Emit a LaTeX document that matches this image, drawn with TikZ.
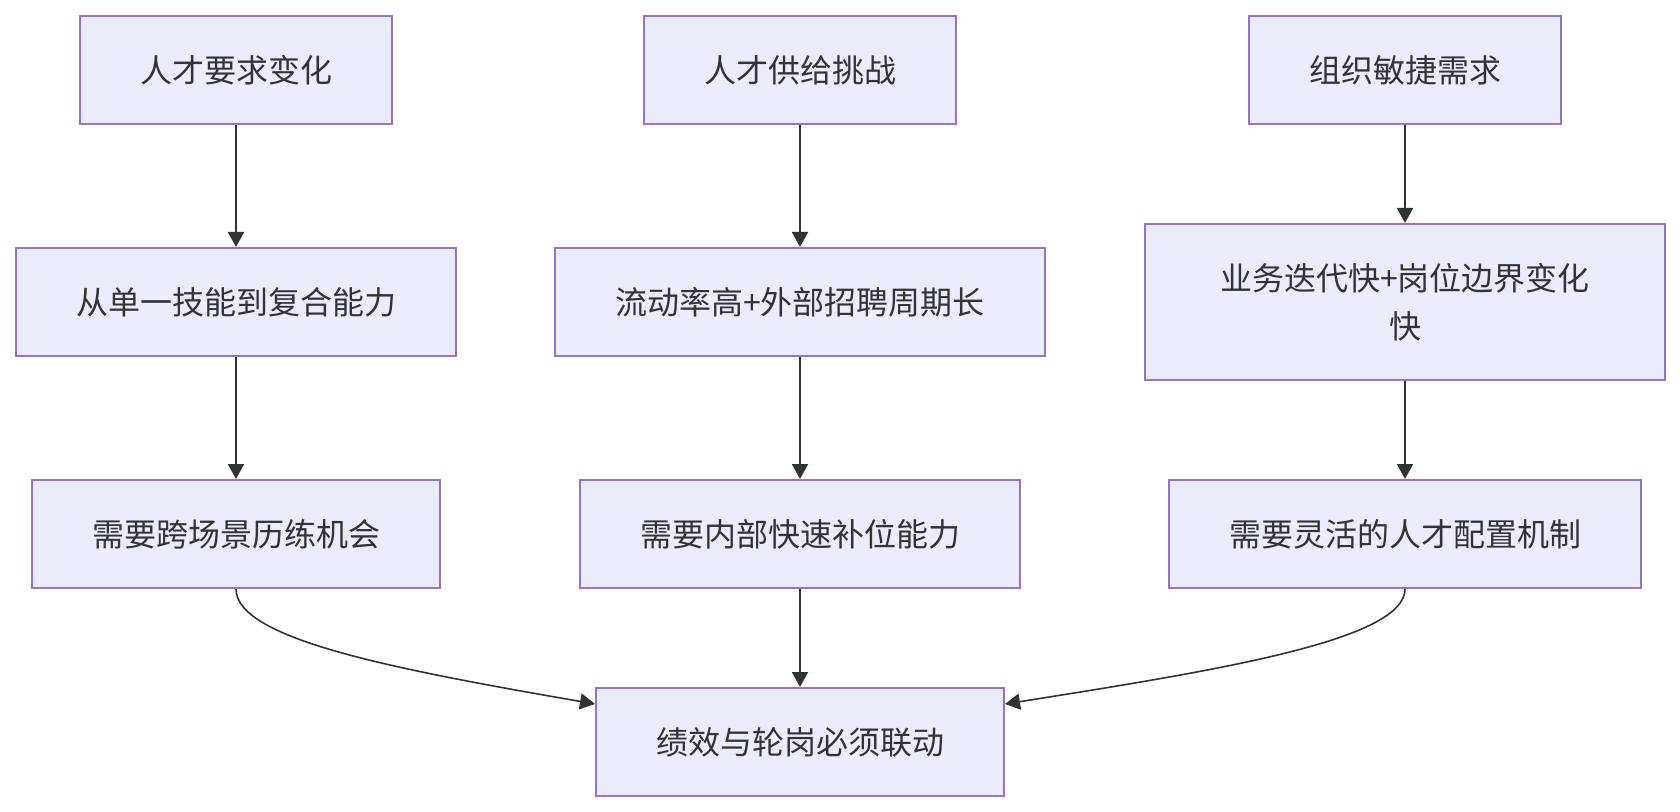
\documentclass[tikz,border=0pt]{standalone}
\usepackage{fontspec}
\newfontfamily\cjk{Noto Sans CJK SC}
\usetikzlibrary{arrows.meta}
\definecolor{boxfill}{HTML}{ECECFF}
\definecolor{boxline}{HTML}{9370DB}
\definecolor{ink}{HTML}{333333}

\begin{document}
\begin{tikzpicture}[
		x=0.5pt, y=-0.5pt,
		n/.style = {rectangle, draw=boxline, fill=boxfill, line width=1pt, text=ink, inner sep=0pt, minimum height=54pt, align=center, font=\cjk\fontsize{16}{24}\selectfont},
		r/.style = {-{Triangle[width=8pt,length=7.5pt]}, draw=ink, line width=1pt},
		c/.style = {-{Triangle[width=8pt,length=7.5pt]}, draw=ink, line width=0.8pt}
		]
		\useasboundingbox (0,0) rectangle (1680,812);
		
		% === === Nodes === ===
		\node[n, minimum width=156pt]	(a1)	at	(236, 70)		{人才要求变化};
		\node[n, minimum width=220pt]	(a2)	at	(236, 302)		{从单一技能到复合能力};
		\node[n, minimum width=204pt]	(a3)	at	(236, 534)		{需要跨场景历练机会};
		
		\node[n, minimum width=156pt]	(b1)	at	(800, 70)		{人才供给挑战};
		\node[n, minimum width=245pt]	(b2)	at	(800, 302)		{流动率高+外部招聘周期长};
		\node[n, minimum width=220pt]	(b3)	at	(800, 534)		{需要内部快速补位能力};
		
		\node[n, minimum width=156pt]	(c1)	at	(1405, 70)		{组织敏捷需求};
		\node[n, minimum width=260pt, minimum height=78pt]	(c2)	at	(1405, 302)	{业务迭代快+岗位边界变化\\快};
		\node[n, minimum width=236pt]	(c3)	at	(1405, 534)		{需要灵活的人才配置机制};
		
		\node[n, minimum width=204pt]	(d)		at	(800, 742)		{绩效与轮岗必须联动};
		
		% === === Lines === ===
		\draw[r]	(a1.south)	--	(a2.north);
		\draw[r]	(a2.south)	--	(a3.north);
		\draw[r]	(b1.south)	--	(b2.north);
		\draw[r]	(b2.south)	--	(b3.north);
		\draw[r]	(c1.south)	--	(c2.north);
		\draw[r]	(c2.south)	--	(c3.north);
		
		\draw[r]	(b3.south)	--	(d.north);
		\draw[c]	(a3.south)	.. controls (236, 640) and (400, 670) ..	([yshift=19pt]d.west);
		\draw[c]	(c3.south)	.. controls (1405, 640) and (1220, 670) ..	([yshift=19pt]d.east);
		
\end{tikzpicture}
\end{document}
